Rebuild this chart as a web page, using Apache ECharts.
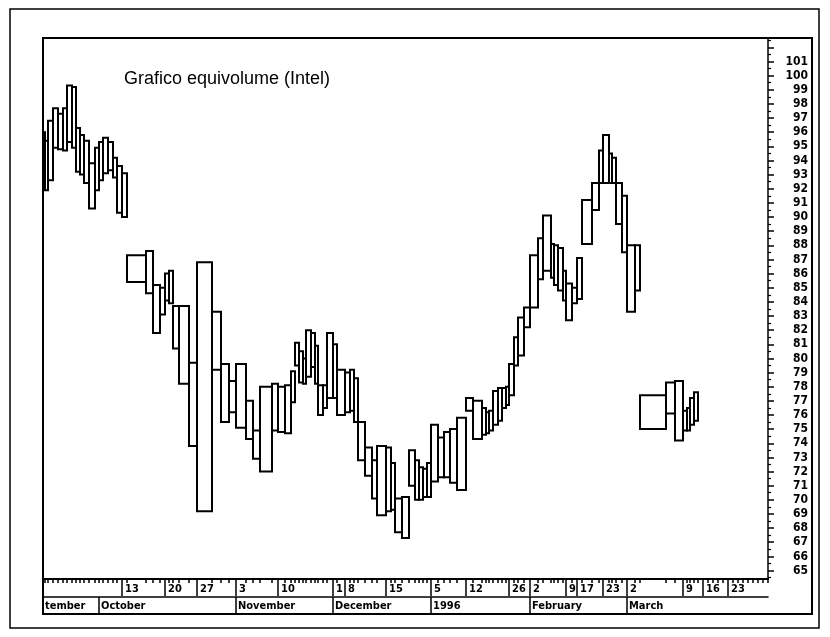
<!DOCTYPE html>
<html><head><meta charset="utf-8">
<script src="https://cdn.jsdelivr.net/npm/echarts@6/dist/echarts.min.js"></script>
<style>html,body{margin:0;padding:0;background:#fff}#c{width:830px;height:637px}</style>
</head><body><div id="c"></div>
<script>
// Equivolume data (volume in arbitrary units, high/low prices)
const volume = [2,3,5,5,5,4,5,4,4,4,5,6,4,4,5,5,4,5,5,
  19,7,7,5,4,4,6,10,8,15,9,8,7,10,
  7,7,12,6,7,6,4,4,4,3,5,4,3,5,4,6,4,8,5,4,4,7,7,5,9,5,4,7,7,6,4,4,4,4,7,6,6,7,9,
  7,9,4,3,4,5,4,4,3,5,4,6,6,8,5,8,3,4,5,3,6,5,5,10,7,4,6,3,4,6,5,8,5,
  26,9,8,4,3,4,4];
const high = [96.0,95.4,96.8,97.7,97.3,97.7,99.3,99.2,96.3,95.8,95.4,93.8,94.9,95.3,95.6,95.3,94.2,93.6,93.1,
  87.3,87.6,85.2,85.0,86.0,86.2,83.7,83.7,79.7,86.8,83.3,79.6,78.4,79.6,
  77.0,74.9,78.0,78.2,78.0,78.1,79.1,81.1,80.5,80.0,82.0,81.8,80.9,78.1,78.1,81.8,81.0,79.2,79.0,79.2,78.6,75.5,73.7,72.8,73.8,73.7,72.6,70.1,70.2,73.5,72.8,72.3,72.2,72.6,75.3,74.4,74.8,75.0,75.8,
  77.2,77.0,76.5,76.2,76.3,77.7,77.9,77.9,78.0,79.6,81.5,82.9,83.6,87.3,88.5,90.1,88.1,88.0,87.8,86.2,85.3,85.0,87.1,91.2,92.4,94.7,95.8,94.5,94.2,92.4,91.5,88.0,88.0,
  77.4,78.3,78.4,76.3,76.5,77.2,77.6];
const low = [93.3,91.9,92.6,94.9,94.8,94.7,95.3,94.9,93.2,93.0,92.4,90.6,91.9,92.6,93.1,93.3,92.8,90.3,90.0,
  85.4,84.6,81.8,83.1,84.1,83.9,80.7,78.2,73.8,69.2,79.2,75.5,76.2,75.1,
  74.3,72.9,72.0,74.9,74.8,74.7,76.9,79.5,78.3,78.2,78.7,79.4,78.2,76.0,76.5,77.2,77.2,76.0,76.2,76.3,75.5,72.8,71.7,70.1,68.9,69.2,69.3,67.7,67.3,71.0,70.0,70.0,70.2,70.2,71.3,71.6,71.6,71.2,70.7,
  76.3,74.3,74.6,74.7,74.9,75.3,75.6,76.5,76.7,77.4,79.5,80.2,82.2,83.6,85.6,86.2,85.7,85.2,84.8,84.1,82.7,83.9,84.2,88.1,90.5,92.4,92.4,92.4,92.4,89.5,87.5,83.3,84.8,
  75.0,76.1,74.2,74.9,74.9,75.3,75.6];
// calendar days shown on the axis after the last traded day
const blankDays = 14;
const blankVolume = 5;

const monthLabels = ['tember','October','November','December','1996','February','March'];
const monthStartDay = [0,13,32,49,67,85,103];
const dayLabels = ['13','20','27','3','10','1','8','15','5','12','26','2','9','17','23','2','9','16','23'];
const dayLabelDay = [18,23,28,32,37,49,51,58,67,72,81,85,92,94,98,103,108,113,118];
const priceLabels = [65,66,67,68,69,70,71,72,73,74,75,76,77,78,79,80,81,82,83,84,85,86,87,88,89,90,91,92,93,94,95,96,97,98,99,100,101];

// cumulative volume -> day start positions
const allVol = volume.concat(new Array(blankDays).fill(blankVolume));
const starts = [0];
allVol.forEach(v => starts.push(starts[starts.length-1] + v));
const total = starts[starts.length-1];
const boxes = volume.map((v,i) => [starts[i], starts[i+1], high[i], low[i]]);

const dayVals = dayLabelDay.map(d => starts[d]);
const dayMap = {}; dayVals.forEach((v,i)=> dayMap[v] = dayLabels[i]);
const monVals = monthStartDay.map(d => starts[d]);
const monMap = {}; monVals.forEach((v,i)=> monMap[v] = monthLabels[i]);
const priceTicks = priceLabels.concat([102]);
const halfTicks = priceTicks.map(v => v - 0.5).concat([102.5]);

const narrow = "'Liberation Sans Narrow','DejaVu Sans Condensed',sans-serif";
const lbl = {color:'#000', fontFamily: narrow, fontWeight:'bold', fontSize:11};

const chart = echarts.init(document.getElementById('c'), null, {renderer:'canvas'});
chart.setOption({
  backgroundColor:'#fff',
  animation:false,
  title:{text:'Grafico equivolume (Intel)', left:119, top:65,
    textStyle:{fontFamily:"'Liberation Sans',Arial,sans-serif", fontSize:18, fontWeight:'normal', color:'#000'}},
  grid:{left:43, right:62, top:38, bottom:58},
  xAxis:[
    {type:'value', min:0, max:total, position:'bottom', offset:0,
      axisLine:{show:true, onZero:false, lineStyle:{color:'#000', width:2}},
      axisTick:{show:true, customValues:starts, length:4, lineStyle:{color:'#000', width:1.5}},
      axisLabel:{show:false}, splitLine:{show:false}},
    {type:'value', min:0, max:total, position:'bottom', offset:0,
      axisLine:{show:false},
      axisTick:{show:true, customValues:dayVals, length:17, lineStyle:{color:'#000', width:1.5}},
      axisLabel:Object.assign({show:true, customValues:dayVals, align:'left', margin:5, padding:[0,0,0,3],
        formatter:v => dayMap[v] || ''}, lbl),
      splitLine:{show:false}},
    {type:'value', min:0, max:total, position:'bottom', offset:18,
      axisLine:{show:true, onZero:false, lineStyle:{color:'#000', width:1.5}},
      axisTick:{show:true, customValues:monVals, length:16, lineStyle:{color:'#000', width:1.5}},
      axisLabel:Object.assign({show:true, customValues:monVals, align:'left', margin:4, padding:[0,0,0,2],
        formatter:v => monMap[v] || ''}, lbl),
      splitLine:{show:false}}
  ],
  yAxis:[
    {type:'value', min:64.4, max:102.66, position:'right', offset:0,
      axisLine:{show:true, onZero:false, lineStyle:{color:'#000', width:1.5}},
      axisTick:{show:true, customValues:priceTicks, length:6, lineStyle:{color:'#000', width:1.5}},
      axisLabel:Object.assign({show:true, customValues:priceLabels, align:'right', margin:40}, lbl, {fontSize:12}),
      splitLine:{show:false}},
    {type:'value', min:64.4, max:102.66, position:'left', offset:-725,
      axisLine:{show:false},
      axisTick:{show:true, inside:true, customValues:halfTicks, length:3, lineStyle:{color:'#000', width:1.2}},
      axisLabel:{show:false}, splitLine:{show:false}}
  ],
  graphic:[
    {type:'rect', silent:true, shape:{x:10, y:9, width:809, height:619}, style:{fill:'none', stroke:'#000', lineWidth:1.5}},
    {type:'rect', silent:true, shape:{x:43, y:38, width:769, height:576}, style:{fill:'none', stroke:'#000', lineWidth:2}}
  ],
  series:[{
    type:'custom', xAxisIndex:0, yAxisIndex:0,
    encode:{x:[0,1], y:[2,3]},
    data:boxes,
    renderItem:function(params, api){
      const p0 = api.coord([api.value(0), api.value(2)]);
      const p1 = api.coord([api.value(1), api.value(3)]);
      return {type:'rect', shape:{x:p0[0], y:p0[1], width:p1[0]-p0[0], height:p1[1]-p0[1]},
        style:{fill:'none', stroke:'#000', lineWidth:2}};
    }
  }]
});
</script></body></html>
